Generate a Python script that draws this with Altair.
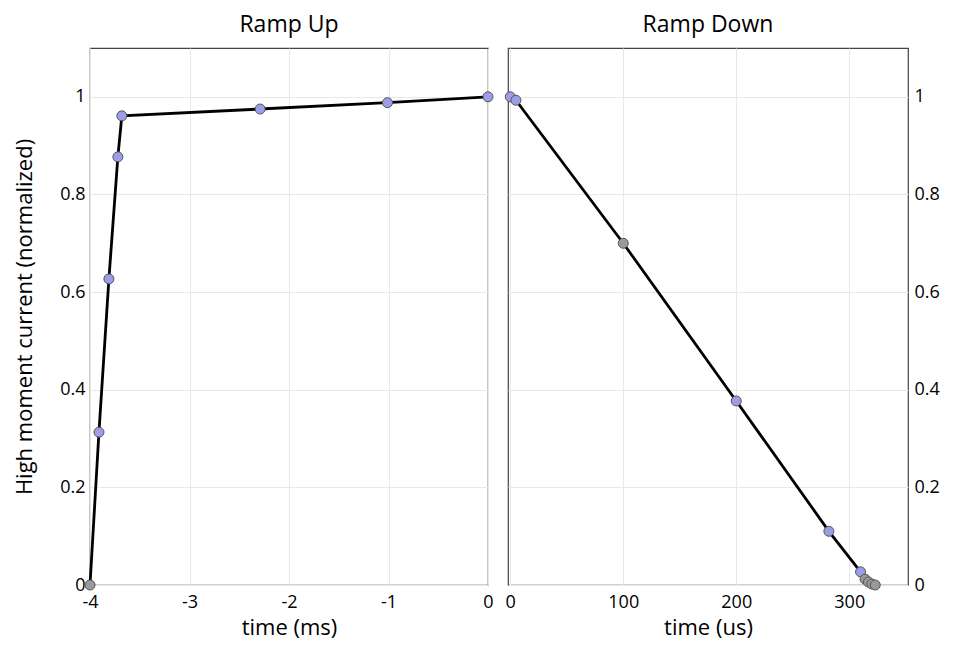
import altair as alt
import pandas as pd

# Ramp Up (time in ms)
up_t = [-4.0, -3.91, -3.81, -3.72, -3.68, -2.29, -1.01, 0.0]
up_i = [0.0, 0.313, 0.627, 0.877, 0.961, 0.975, 0.988, 1.0]
up_kind = ["gray", "blue", "blue", "blue", "blue", "blue", "blue", "blue"]

# Ramp Down (time in us)
down_t = [0, 5, 100, 200, 282, 310, 314, 317, 320, 323]
down_i = [1.0, 0.993, 0.70, 0.377, 0.11, 0.027, 0.012, 0.006, 0.002, 0.0]
down_kind = ["blue", "blue", "gray", "blue", "blue", "blue", "gray", "gray", "gray", "gray"]

y_ticks = [0, 0.2, 0.4, 0.6, 0.8, 1]
up_xticks = [-4, -3, -2, -1, 0]
down_xticks = [0, 100, 200, 300]

FONT = "Open Sans"
LABEL = "'' + datum.value"

up_df = pd.DataFrame({"t": up_t, "i": up_i, "kind": up_kind})
down_df = pd.DataFrame({"t": down_t, "i": down_i, "kind": down_kind})

color_scale = alt.Scale(domain=["blue", "gray"], range=["#9c9ce8", "#9a9a9a"])
y_scale = alt.Scale(domain=[0, 1.1], nice=False, zero=False)


def panel(df, xdomain, xticks, xtitle, title, yorient, show_ytitle, width):
    x = alt.X("t:Q", scale=alt.Scale(domain=xdomain, nice=False, zero=False),
              axis=alt.Axis(values=xticks, title=xtitle, labelExpr=LABEL,
                            labelFlush=False))
    y = alt.Y("i:Q", scale=y_scale,
              axis=alt.Axis(values=y_ticks, orient=yorient, labelExpr=LABEL,
                            labelFlush=False,
                            title="High moment current (normalized)" if show_ytitle else "",
                            titlePadding=23))
    line = alt.Chart(df).mark_line(color="black", strokeWidth=2.8).encode(x=x, y=y)
    pts = alt.Chart(df).mark_point(filled=True, size=100, stroke="#555555",
                                   strokeWidth=1, opacity=1).encode(
        x=x, y=y,
        color=alt.Color("kind:N", scale=color_scale, legend=None),
    )
    return alt.layer(line, pts).properties(
        width=width, height=537,
        title=alt.TitleParams(title, fontSize=23, font=FONT, fontWeight="normal",
                              offset=11, color="black"),
    )


left = panel(up_df, [-4, 0], up_xticks, "time (ms)", "Ramp Up", "left", True, 398)
right = panel(down_df, [-2, 352], down_xticks, "time (us)", "Ramp Down", "right", False, 400)

chart = alt.hconcat(left, right, spacing=20, bounds="flush").configure(
    background="white"
).configure_view(
    stroke="#444444", strokeWidth=1.2
).configure_axis(
    labelFont=FONT, titleFont=FONT, labelFontSize=18, titleFontSize=22,
    titleFontWeight="normal", labelColor="black", titleColor="black",
    grid=True, gridColor="#e8e8e8", gridWidth=1, domain=False, ticks=False,
    labelPadding=5,
).configure_axisX(labelPadding=8, titlePadding=6).configure_axisRight(labelPadding=6)

chart.save("out.html", embed_options={"renderer": "svg", "actions": False})
